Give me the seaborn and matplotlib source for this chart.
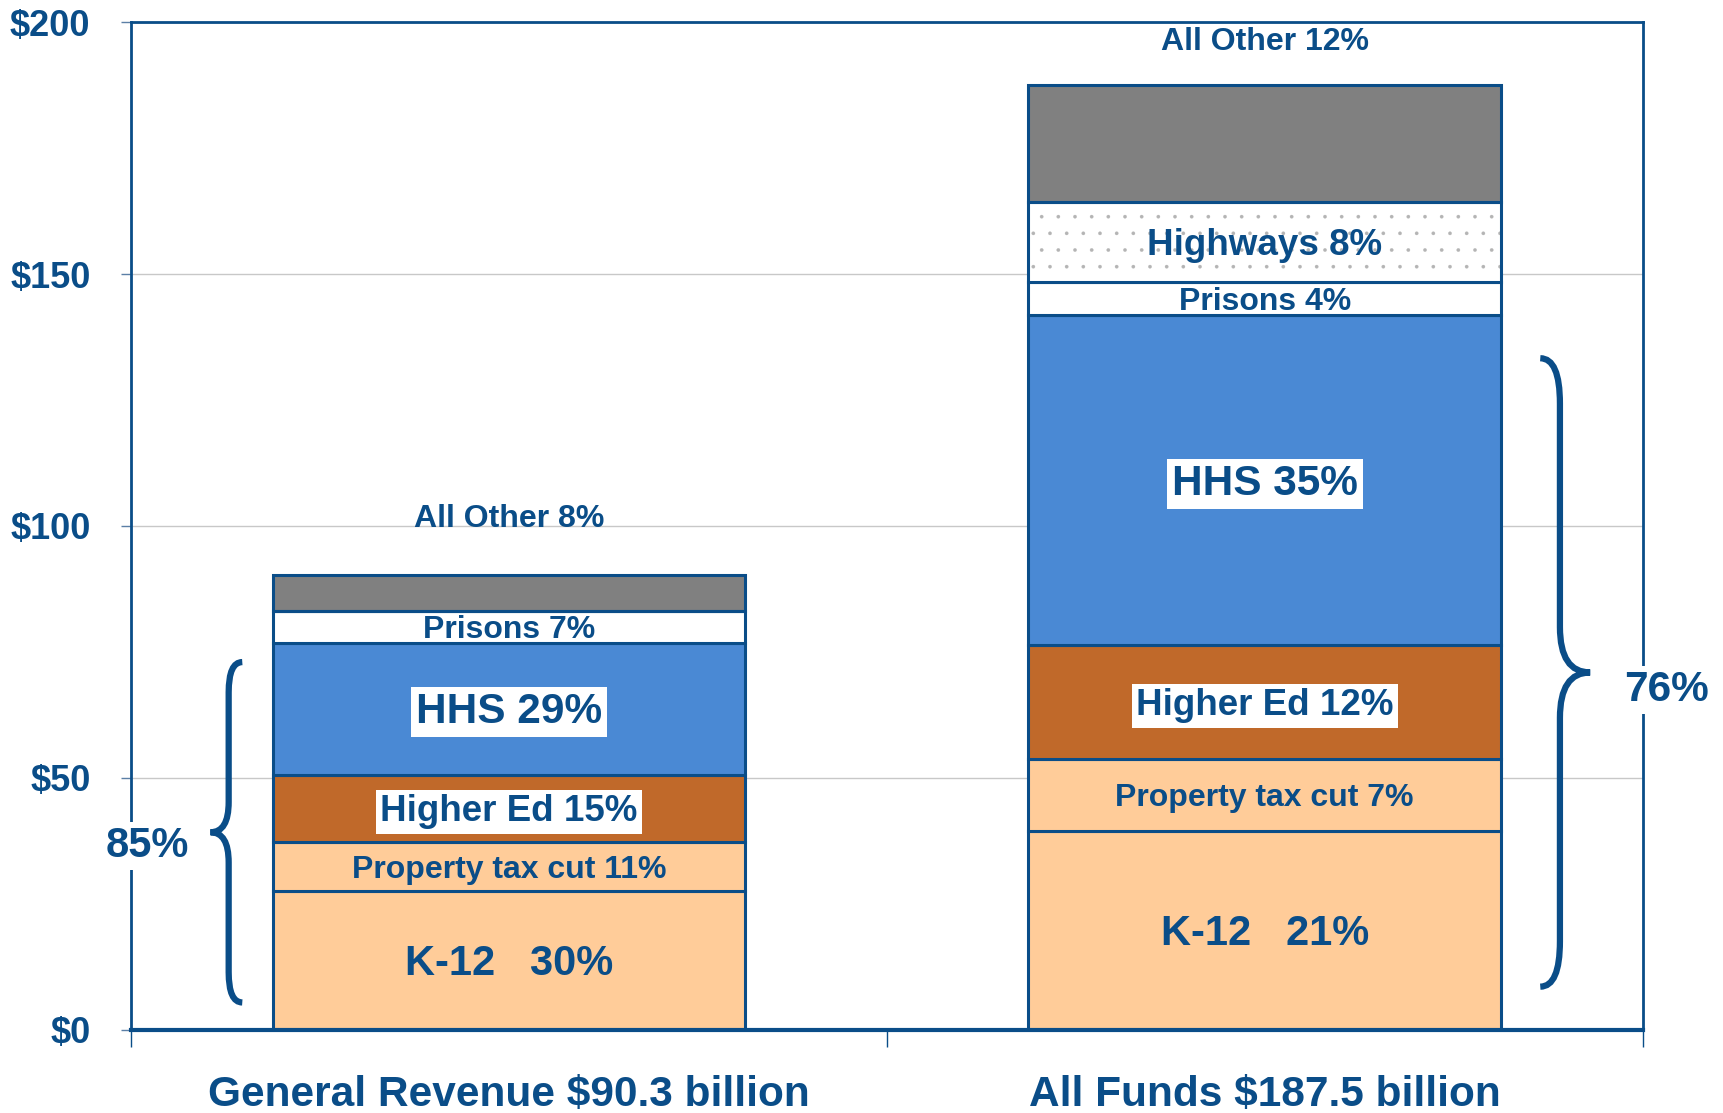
import numpy as np
import matplotlib
matplotlib.use("Agg")
import matplotlib.pyplot as plt
from matplotlib.path import Path
from matplotlib.patches import PathPatch
import seaborn as sns

funds = ["General Revenue $90.3 billion", "All Funds $187.5 billion"]
segments = ["K-12", "Property tax cut", "Higher Ed", "HHS", "Prisons", "Highways", "All Other"]

# $ billions
k12 = [27.5, 39.5]
prop_tax = [9.8, 14.2]
higher_ed = [13.3, 22.6]
hhs = [26.2, 65.5]
prisons = [6.3, 6.7]
highways = [0.0, 15.9]
all_other = [7.2, 23.1]

# percent labels
k12_pct = [30, 21]
prop_tax_pct = [11, 7]
higher_ed_pct = [15, 12]
hhs_pct = [29, 35]
prisons_pct = [7, 4]
highways_pct = [None, 8]
all_other_pct = [8, 12]
brace_pct = [85, 76]   # K-12 through HHS

navy = "#0A4D88"
seg_vals = [k12, prop_tax, higher_ed, hhs, prisons, highways, all_other]
seg_pcts = [k12_pct, prop_tax_pct, higher_ed_pct, hhs_pct, prisons_pct, highways_pct, all_other_pct]
seg_colors = ["#FFCC99", "#FFCC99", "#C0692A", "#4A89D4", "white", "white", "#808080"]
seg_fmt = ["K-12   {}%", "Property tax cut {}%", "Higher Ed {}%", "HHS {}%",
           "Prisons {}%", "Highways {}%", "All Other {}%"]
seg_size = [30, 23, 26.5, 30.5, 23, 26.5, 23]
seg_boxed = [False, False, True, True, False, False, False]
other_gap = [11, 8.5]   # "All Other" label sits above the bar

sns.set_style("white")
plt.rcParams["font.family"] = ["Liberation Sans", "DejaVu Sans"]
plt.rcParams["font.weight"] = "bold"
plt.rcParams["hatch.linewidth"] = 0.2

fig, ax = plt.subplots(figsize=(17.23, 11.13), dpi=100)
fig.subplots_adjust(left=0.0759, right=0.9534, top=0.980, bottom=0.075)

bw = 0.625
bottom = np.zeros(2)
bottoms = []
for name, vals, col in zip(segments, seg_vals, seg_colors):
    bottoms.append(bottom.copy())
    if name == "Highways":
        # gray dotted fill, then navy outline on top
        sns.barplot(x=funds, y=vals, bottom=bottom, color="white", saturation=1,
                    width=bw, errorbar=None, hatch=".", edgecolor="#B4B4B4",
                    linewidth=0, ax=ax, zorder=2)
        sns.barplot(x=funds, y=vals, bottom=bottom, color=navy, fill=False,
                    saturation=1, width=bw, errorbar=None, linewidth=2.2,
                    ax=ax, zorder=3)
    else:
        sns.barplot(x=funds, y=vals, bottom=bottom, color=col, saturation=1,
                    width=bw, errorbar=None, edgecolor=navy, linewidth=2.2,
                    ax=ax, zorder=2)
    bottom = bottom + np.array(vals)

# segment labels
for i in range(len(funds)):
    for j, name in enumerate(segments):
        p = seg_pcts[j][i]
        if p is None:
            continue
        txt = seg_fmt[j].format(p)
        if name == "All Other":
            y = bottom[i] + other_gap[i]
        else:
            y = bottoms[j][i] + seg_vals[j][i] / 2 - 0.7
        kw = {}
        if seg_boxed[j]:
            kw["bbox"] = dict(boxstyle="square,pad=0.12", fc="white", ec="none")
        ax.text(i, y, txt, ha="center", va="center", fontsize=seg_size[j],
                fontweight="bold", color=navy, zorder=4, **kw)


def brace(ax, x_end, x_mid, x_tip, y0, y1, r, lw=4.5):
    ym = (y0 + y1) / 2
    verts = [(x_end, y1), (x_mid, y1), (x_mid, y1 - r),
             (x_mid, ym + r), (x_mid, ym), (x_tip, ym),
             (x_mid, ym), (x_mid, ym - r),
             (x_mid, y0 + r), (x_mid, y0), (x_end, y0)]
    codes = [Path.MOVETO, Path.CURVE3, Path.CURVE3,
             Path.LINETO, Path.CURVE3, Path.CURVE3,
             Path.CURVE3, Path.CURVE3,
             Path.LINETO, Path.CURVE3, Path.CURVE3]
    ax.add_patch(PathPatch(Path(verts, codes), fill=False, ec=navy, lw=lw,
                           capstyle="butt", zorder=4, clip_on=False))


core = np.array(k12) + np.array(prop_tax) + np.array(higher_ed) + np.array(hhs)
brace(ax, -bw / 2 - 0.04, -bw / 2 - 0.058, -bw / 2 - 0.082,
      0.07 * core[0], 0.95 * core[0], 6)
brace(ax, 1 + bw / 2 + 0.052, 1 + bw / 2 + 0.078, 1 + bw / 2 + 0.118,
      0.06 * core[1], 0.94 * core[1], 9)
ax.text(-0.478, core[0] / 2 - 2, f"{brace_pct[0]}%", ha="center", va="center",
        fontsize=30, fontweight="bold", color=navy, zorder=5, clip_on=False,
        bbox=dict(boxstyle="square,pad=0.1", fc="white", ec="none"))
ax.text(1.532, core[1] / 2 - 3.5, f"{brace_pct[1]}%", ha="center", va="center",
        fontsize=30.5, fontweight="bold", color=navy, zorder=5, clip_on=False,
        bbox=dict(boxstyle="square,pad=0.1", fc="white", ec="none"))

ax.set_xlim(-0.5, 1.5)
ax.set_ylim(0, 200)
ax.set_yticks([0, 50, 100, 150, 200])
ax.set_yticklabels([f"${v}" for v in [0, 50, 100, 150, 200]])
ax.yaxis.grid(True, color="#C8C8C8", lw=1)
ax.set_axisbelow(True)
ax.set_xlabel("")
ax.set_ylabel("")

ax.tick_params(axis="y", left=True, length=7, width=1, color="#5B7FA6",
               labelsize=26, labelcolor=navy, pad=22)
ax.tick_params(axis="x", which="major", length=0, labelsize=30.5,
               labelcolor=navy, pad=33)
ax.set_xticks([-0.5, 0.5, 1.5], minor=True)
ax.tick_params(axis="x", which="minor", bottom=True, length=12, width=1, color=navy)
for lab in ax.get_xticklabels() + ax.get_yticklabels():
    lab.set_fontweight("bold")

for s in ax.spines.values():
    s.set_visible(True)
    s.set_color(navy)
    s.set_linewidth(2)
ax.spines["bottom"].set_linewidth(3)

plt.savefig("out.png", dpi=100)
